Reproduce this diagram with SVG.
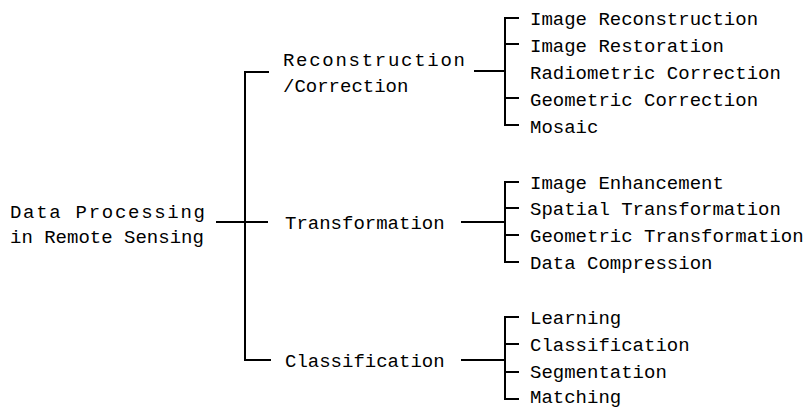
<svg xmlns="http://www.w3.org/2000/svg" width="811" height="410" viewBox="0 0 811 410">
<style>
text{font-family:"Liberation Mono","DejaVu Sans Mono",monospace;font-size:19px;fill:#000}
.c{stroke:#000;stroke-width:2;fill:none;stroke-linecap:square}
</style>
<rect width="811" height="410" fill="#fff"/>
<g id="connectors" class="c">
<path d="M217 222H267M268 72H245V360H270"/>
<path d="M475 71H505M518 18H505V125H518M505 44H518M505 98H518"/>
<path d="M462 222H505M518 182H505V262H518M505 208H518M505 235H518"/>
<path d="M462 360H505M518 317H505V399H518M505 344H518M505 372H518"/>
</g>
<g id="root"><text x="10" y="218" textLength="195" lengthAdjust="spacing">Data Processing</text><text x="10" y="243">in Remote Sensing</text></g>
<g id="recon"><text x="283" y="66" textLength="182" lengthAdjust="spacing">Reconstruction</text><text x="283" y="92">/Correction</text></g>
<g id="transf"><text x="285" y="229">Transformation</text></g>
<g id="classif"><text x="285" y="367">Classification</text></g>
<g id="r1"><text x="530" y="25">Image Reconstruction</text></g>
<g id="r2"><text x="530" y="52">Image Restoration</text></g>
<g id="r3"><text x="530" y="79">Radiometric Correction</text></g>
<g id="r4"><text x="530" y="106">Geometric Correction</text></g>
<g id="r5"><text x="530" y="133">Mosaic</text></g>
<g id="t1"><text x="530" y="189">Image Enhancement</text></g>
<g id="t2"><text x="530" y="215">Spatial Transformation</text></g>
<g id="t3"><text x="530" y="242">Geometric Transformation</text></g>
<g id="t4"><text x="530" y="269">Data Compression</text></g>
<g id="c1"><text x="530" y="324">Learning</text></g>
<g id="c2"><text x="530" y="351">Classification</text></g>
<g id="c3"><text x="530" y="378">Segmentation</text></g>
<g id="c4"><text x="530" y="403">Matching</text></g>
</svg>
